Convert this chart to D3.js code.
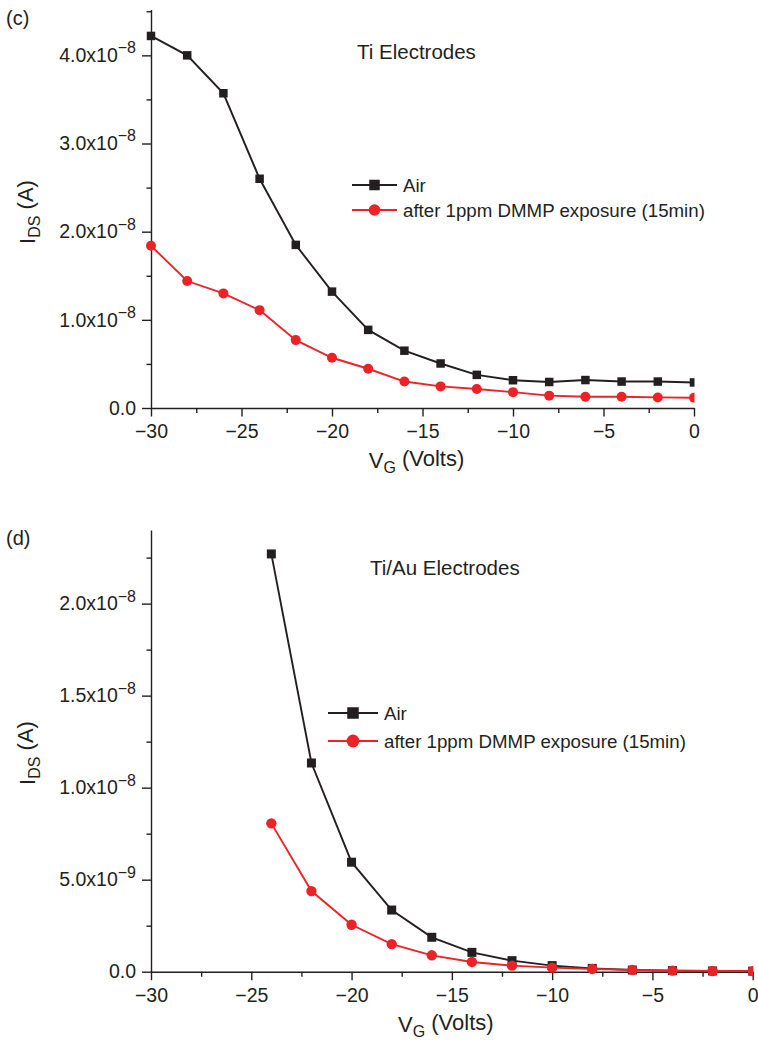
<!DOCTYPE html>
<html>
<head>
<meta charset="utf-8">
<script src="https://cdn.jsdelivr.net/npm/d3@7"></script>
<style>
  body { margin: 0; background: #fff; }
  svg { display: block; font-family: 'Liberation Sans', Arial, sans-serif; }
</style>
</head>
<body>
<script>
// gate voltage (V)
const vgTi = [-30, -28, -26, -24, -22, -20, -18, -16, -14, -12, -10, -8, -6, -4, -2, 0]
const vgTiAu = [-24, -22, -20, -18, -16, -14, -12, -10, -8, -6, -4, -2, 0]

// I_DS in units of 1e-8 A
const tiAir = [4.22, 4.00, 3.57, 2.60, 1.85, 1.32, 0.886, 0.65, 0.505, 0.376, 0.315, 0.295, 0.317, 0.30, 0.30, 0.29]
const tiDmmp = [1.84, 1.44, 1.30, 1.11, 0.77, 0.57, 0.445, 0.30, 0.245, 0.215, 0.18, 0.14, 0.127, 0.127, 0.12, 0.117]
const tiAuAir = [2.27, 1.134, 0.595, 0.335, 0.187, 0.105, 0.06, 0.033, 0.018, 0.009, 0.006, 0.004, 0.003]
const tiAuDmmp = [0.806, 0.438, 0.255, 0.15, 0.089, 0.053, 0.033, 0.022, 0.015, 0.01, 0.006, 0.004, 0.003]

const seriesNames = ['Air', 'after 1ppm DMMP exposure (15min)']

const xTicks = [-30, -25, -20, -15, -10, -5, 0]
const xMinorTicks = [-27.5, -22.5, -17.5, -12.5, -7.5, -2.5]
const tiYTicks = [0, 1e-8, 2e-8, 3e-8, 4e-8]
const tiYMinor = [0.5e-8, 1.5e-8, 2.5e-8, 3.5e-8, 4.5e-8]
const tiAuYTicks = [0, 0.5e-8, 1.0e-8, 1.5e-8, 2.0e-8]
const tiAuYMinor = [0.25e-8, 0.75e-8, 1.25e-8, 1.75e-8, 2.25e-8]

const black = '#231f20'
const red = '#ec2227'

const width = 758
const height = 1046

const svg = d3.select('body').append('svg')
  .attr('xmlns', 'http://www.w3.org/2000/svg')
  .attr('width', width)
  .attr('height', height)

// "4.0x10^-8" style labels
const sciLabel = (sel) => {
  sel.each(function (d) {
    const t = d3.select(this).text('')
    if (d === 0) { t.text('0.0'); return }
    const e = Math.floor(Math.log10(d) + 1e-9)
    const m = (d / Math.pow(10, e)).toFixed(1)
    t.append('tspan').text(`${m}x10`)
    t.append('tspan').attr('dy', '-0.55em').attr('font-size', '16px').text(`\u2212${-e}`)
  })
}

const drawPanel = (p) => {
  const g = svg.append('g')

  const x = d3.scaleLinear().domain([-30, 0]).range([p.left, p.right])
  const y = d3.scaleLinear().domain([0, p.yMax]).range([p.bottom, p.top])

  // y axis
  g.append('g')
    .attr('transform', `translate(${p.left},0)`)
    .call(d3.axisLeft(y).tickValues(p.yMinor).tickSize(4.5).tickSizeOuter(0).tickFormat(''))
    .call(a => a.select('.domain').remove())
  const ya = g.append('g')
    .attr('transform', `translate(${p.left},0)`)
    .call(d3.axisLeft(y).tickValues(p.yTicks).tickSize(9).tickSizeOuter(0).tickPadding(6))
  ya.selectAll('.tick text').call(sciLabel)

  // x axis
  g.append('g')
    .attr('transform', `translate(0,${p.bottom})`)
    .call(d3.axisBottom(x).tickValues(xMinorTicks).tickSize(5).tickSizeOuter(0).tickFormat(''))
    .call(a => a.select('.domain').remove())
  g.append('g')
    .attr('transform', `translate(0,${p.bottom})`)
    .call(d3.axisBottom(x).tickValues(xTicks).tickSize(8.5).tickSizeOuter(0).tickPadding(8)
      .tickFormat(d => (d < 0 ? `\u2212${-d}` : `${d}`)))

  g.selectAll('.domain, .tick line').attr('stroke', black).attr('stroke-width', 1.4)
  g.selectAll('.tick text').attr('fill', black).attr('font-size', '19.5px')
    .attr('font-family', "'Liberation Sans', Arial, sans-serif")

  // labels
  const yl = g.append('text')
    .attr('transform', `translate(${p.ylabelX},${p.ylabelY}) rotate(-90)`)
    .attr('text-anchor', 'middle')
    .attr('font-size', '22px')
    .attr('fill', black)
  yl.append('tspan').text('I')
  yl.append('tspan').attr('dy', '0.3em').attr('font-size', '16px').text('DS')
  yl.append('tspan').attr('dy', '-0.3em').text(' (A)')

  const xl = g.append('text')
    .attr('x', (p.left + p.right) / 2 - 6)
    .attr('y', p.bottom + 60)
    .attr('text-anchor', 'middle')
    .attr('font-size', '22px')
    .attr('fill', black)
  xl.append('tspan').text('V')
  xl.append('tspan').attr('dy', '0.3em').attr('font-size', '16px').text('G')
  xl.append('tspan').attr('dy', '-0.3em').text(' (Volts)')

  g.append('text')
    .attr('x', 6).attr('y', p.panelY)
    .attr('font-size', '20px').attr('fill', black)
    .text(p.panel)

  g.append('text')
    .attr('x', p.titleX).attr('y', p.titleY)
    .attr('font-size', '20.5px').attr('fill', black)
    .text(p.title)

  // data
  const clipId = `clip-${p.panel.replace(/\W/g, '')}`
  svg.append('clipPath').attr('id', clipId)
    .append('rect').attr('x', 0).attr('y', 0).attr('width', p.right + 0.5).attr('height', height)

  const plot = g.append('g').attr('clip-path', `url(#${clipId})`)
  const line = d3.line().x(d => x(d[0])).y(d => y(d[1] * 1e-8))

  const series = [
    { vals: p.air, color: black, shape: 'square' },
    { vals: p.dmmp, color: red, shape: 'circle' },
  ]

  series.forEach((s) => {
    const pts = p.vg.map((v, i) => [v, s.vals[i]])
    plot.append('path')
      .datum(pts)
      .attr('d', line)
      .attr('fill', 'none')
      .attr('stroke', s.color)
      .attr('stroke-width', 1.9)
    if (s.shape === 'square') {
      plot.selectAll(null).data(pts).join('rect')
        .attr('x', d => x(d[0]) - p.sq / 2)
        .attr('y', d => y(d[1] * 1e-8) - p.sq / 2)
        .attr('width', p.sq).attr('height', p.sq)
        .attr('fill', s.color)
    } else {
      plot.selectAll(null).data(pts).join('circle')
        .attr('cx', d => x(d[0]))
        .attr('cy', d => y(d[1] * 1e-8))
        .attr('r', p.cr)
        .attr('fill', s.color)
    }
  })

  // legend
  const lg = g.append('g')
  series.forEach((s, i) => {
    const ly = p.legY + i * p.legGap
    lg.append('line')
      .attr('x1', p.legX1).attr('x2', p.legX2).attr('y1', ly).attr('y2', ly)
      .attr('stroke', s.color).attr('stroke-width', 1.9)
    const cx = (p.legX1 + p.legX2) / 2
    if (s.shape === 'square') {
      lg.append('rect')
        .attr('x', cx - p.lsq / 2).attr('y', ly - p.lsq / 2)
        .attr('width', p.lsq).attr('height', p.lsq).attr('fill', s.color)
    } else {
      lg.append('circle').attr('cx', cx).attr('cy', ly).attr('r', p.lcr).attr('fill', s.color)
    }
    lg.append('text')
      .attr('x', p.legX2 + 6).attr('y', ly).attr('dy', '0.36em')
      .attr('font-size', '18.7px').attr('fill', black)
      .text(seriesNames[i])
  })
}

drawPanel({
  panel: '(c)', panelY: 25,
  title: 'Ti Electrodes', titleX: 357, titleY: 59,
  left: 151, right: 694, top: 9.5, bottom: 408, yMax: 4.52e-8,
  yTicks: tiYTicks, yMinor: tiYMinor,
  vg: vgTi, air: tiAir, dmmp: tiDmmp,
  sq: 8.5, cr: 5, lsq: 10.5, lcr: 5.8,
  legX1: 352, legX2: 397, legY: 185, legGap: 25,
  ylabelX: 35, ylabelY: 212,
})

drawPanel({
  panel: '(d)', panelY: 545,
  title: 'Ti/Au Electrodes', titleX: 370, titleY: 575,
  left: 151, right: 752.7, top: 530, bottom: 971.7, yMax: 2.40e-8,
  yTicks: tiAuYTicks, yMinor: tiAuYMinor,
  vg: vgTiAu, air: tiAuAir, dmmp: tiAuDmmp,
  sq: 9, cr: 5.2, lsq: 11.5, lcr: 6.4,
  legX1: 328, legX2: 378, legY: 713, legGap: 28,
  ylabelX: 35, ylabelY: 753,
})
</script>
</body>
</html>
